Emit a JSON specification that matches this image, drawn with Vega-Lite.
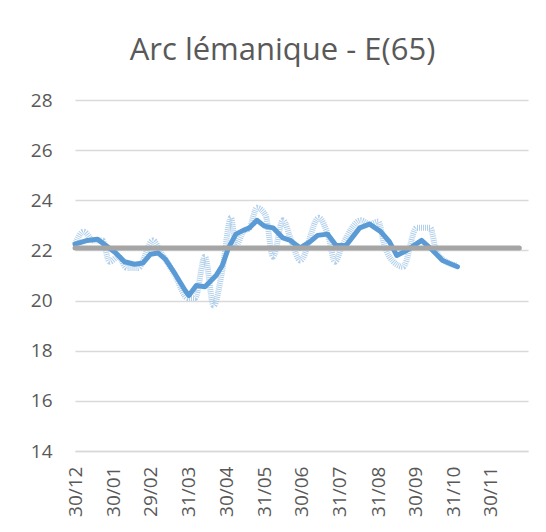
{
  "$schema": "https://vega.github.io/schema/vega-lite/v6.json",
  "width": 453,
  "height": 351,
  "autosize": {"type": "none"},
  "padding": {"left": 75, "top": 100, "right": 18, "bottom": 81},
  "background": "white",
  "config": {"view": {"stroke": null}, "font": "Open Sans"},
  "title": {
    "text": "Arc lémanique - E(65)",
    "font": "Open Sans",
    "fontSize": 31,
    "fontWeight": "normal",
    "color": "#595959",
    "anchor": "middle",
    "dx": -19,
    "offset": 0,
    "baseline": "alphabetic"
  },
  "datasets": {
    "daily": [
      {"date": "2019-12-30", "v": 22.25},
      {"date": "2020-01-06", "v": 22.75},
      {"date": "2020-01-14", "v": 22.4},
      {"date": "2020-01-21", "v": 22.4},
      {"date": "2020-01-27", "v": 21.55},
      {"date": "2020-02-03", "v": 21.75},
      {"date": "2020-02-10", "v": 21.3},
      {"date": "2020-02-19", "v": 21.3},
      {"date": "2020-03-02", "v": 22.4},
      {"date": "2020-03-08", "v": 21.95},
      {"date": "2020-03-20", "v": 21.0},
      {"date": "2020-03-30", "v": 20.1},
      {"date": "2020-04-05", "v": 20.1},
      {"date": "2020-04-13", "v": 21.75},
      {"date": "2020-04-20", "v": 19.8},
      {"date": "2020-04-27", "v": 21.2},
      {"date": "2020-05-04", "v": 23.3},
      {"date": "2020-05-08", "v": 22.2},
      {"date": "2020-05-14", "v": 22.75},
      {"date": "2020-05-19", "v": 22.9},
      {"date": "2020-05-25", "v": 23.7},
      {"date": "2020-06-01", "v": 23.4},
      {"date": "2020-06-07", "v": 21.75},
      {"date": "2020-06-15", "v": 23.2},
      {"date": "2020-06-22", "v": 22.35},
      {"date": "2020-06-29", "v": 21.6},
      {"date": "2020-07-14", "v": 23.3},
      {"date": "2020-07-22", "v": 22.5},
      {"date": "2020-07-27", "v": 21.55},
      {"date": "2020-08-02", "v": 22.2},
      {"date": "2020-08-17", "v": 23.2},
      {"date": "2020-08-24", "v": 23.05},
      {"date": "2020-08-31", "v": 23.15},
      {"date": "2020-09-05", "v": 22.2},
      {"date": "2020-09-09", "v": 21.75},
      {"date": "2020-09-20", "v": 21.35},
      {"date": "2020-10-01", "v": 22.9},
      {"date": "2020-10-12", "v": 22.9},
      {"date": "2020-10-17", "v": 21.95},
      {"date": "2020-10-25", "v": 21.55},
      {"date": "2020-11-02", "v": 21.4}
    ],
    "smooth": [
      {"date": "2019-12-30", "v": 22.25},
      {"date": "2020-01-09", "v": 22.4},
      {"date": "2020-01-17", "v": 22.45},
      {"date": "2020-01-24", "v": 22.2},
      {"date": "2020-02-01", "v": 21.9},
      {"date": "2020-02-08", "v": 21.55},
      {"date": "2020-02-16", "v": 21.45},
      {"date": "2020-02-23", "v": 21.5},
      {"date": "2020-02-29", "v": 21.85},
      {"date": "2020-03-06", "v": 21.9},
      {"date": "2020-03-12", "v": 21.65},
      {"date": "2020-03-20", "v": 21.05},
      {"date": "2020-03-28", "v": 20.4},
      {"date": "2020-03-31", "v": 20.2},
      {"date": "2020-04-06", "v": 20.6},
      {"date": "2020-04-13", "v": 20.55},
      {"date": "2020-04-22", "v": 21.0},
      {"date": "2020-04-27", "v": 21.4},
      {"date": "2020-05-02", "v": 22.1},
      {"date": "2020-05-08", "v": 22.65},
      {"date": "2020-05-14", "v": 22.8},
      {"date": "2020-05-19", "v": 22.9},
      {"date": "2020-05-25", "v": 23.2},
      {"date": "2020-05-31", "v": 22.97},
      {"date": "2020-06-07", "v": 22.9},
      {"date": "2020-06-15", "v": 22.5},
      {"date": "2020-06-21", "v": 22.4},
      {"date": "2020-06-29", "v": 22.1},
      {"date": "2020-07-07", "v": 22.35},
      {"date": "2020-07-13", "v": 22.6},
      {"date": "2020-07-21", "v": 22.65},
      {"date": "2020-07-28", "v": 22.2},
      {"date": "2020-08-05", "v": 22.2},
      {"date": "2020-08-16", "v": 22.9},
      {"date": "2020-08-24", "v": 23.05},
      {"date": "2020-09-02", "v": 22.75},
      {"date": "2020-09-09", "v": 22.35},
      {"date": "2020-09-15", "v": 21.8},
      {"date": "2020-09-23", "v": 22.0},
      {"date": "2020-10-05", "v": 22.4},
      {"date": "2020-10-14", "v": 22.0},
      {"date": "2020-10-22", "v": 21.6},
      {"date": "2020-11-03", "v": 21.35}
    ],
    "avg": [
      {"date": "2019-12-30", "v": 22.1},
      {"date": "2020-12-23", "v": 22.1}
    ]
  },
  "encoding": {
    "x": {
      "field": "date",
      "type": "temporal",
      "scale": {"type": "utc", "domain": [{"year": 2019, "month": 12, "date": 30, "utc": true}, {"year": 2020, "month": 12, "date": 30, "utc": true}]},
      "axis": {
        "title": null,
        "values": [
          {"year": 2019, "month": 12, "date": 30, "utc": true},
          {"year": 2020, "month": 1, "date": 30, "utc": true},
          {"year": 2020, "month": 2, "date": 29, "utc": true},
          {"year": 2020, "month": 3, "date": 31, "utc": true},
          {"year": 2020, "month": 4, "date": 30, "utc": true},
          {"year": 2020, "month": 5, "date": 31, "utc": true},
          {"year": 2020, "month": 6, "date": 30, "utc": true},
          {"year": 2020, "month": 7, "date": 31, "utc": true},
          {"year": 2020, "month": 8, "date": 31, "utc": true},
          {"year": 2020, "month": 9, "date": 30, "utc": true},
          {"year": 2020, "month": 10, "date": 31, "utc": true},
          {"year": 2020, "month": 11, "date": 30, "utc": true}
        ],
        "format": "%d/%m",
        "labelAngle": -90,
        "labelAlign": "right",
        "labelBaseline": "middle",
        "labelFont": "Open Sans",
        "labelFontSize": 19,
        "labelColor": "#595959",
        "labelPadding": 15,
        "labelOverlap": false,
        "labelFlush": false,
        "ticks": false,
        "grid": false,
        "domain": true,
        "domainColor": "#D9D9D9",
        "domainWidth": 1.5
      }
    },
    "y": {
      "field": "v",
      "type": "quantitative",
      "scale": {"domain": [14, 28], "nice": false, "zero": false},
      "axis": {
        "title": null,
        "values": [14, 16, 18, 20, 22, 24, 26, 28],
        "labelFont": "Open Sans",
        "labelFontSize": 19,
        "labelColor": "#595959",
        "labelPadding": 23,
        "ticks": false,
        "domain": false,
        "grid": true,
        "gridColor": "#D9D9D9",
        "gridWidth": 1.5
      }
    }
  },
  "layer": [
    {
      "data": {"name": "daily"},
      "mark": {"type": "line", "interpolate": "monotone", "color": "#9DC3E6", "strokeWidth": 6, "strokeDash": [1, 1], "opacity": 0.8}
    },
    {
      "data": {"name": "smooth"},
      "mark": {"type": "line", "color": "#5B9BD5", "strokeWidth": 5, "strokeCap": "round", "strokeJoin": "round"}
    },
    {
      "data": {"name": "avg"},
      "mark": {"type": "line", "color": "#A5A5A5", "strokeWidth": 5, "strokeCap": "round"}
    }
  ]
}
